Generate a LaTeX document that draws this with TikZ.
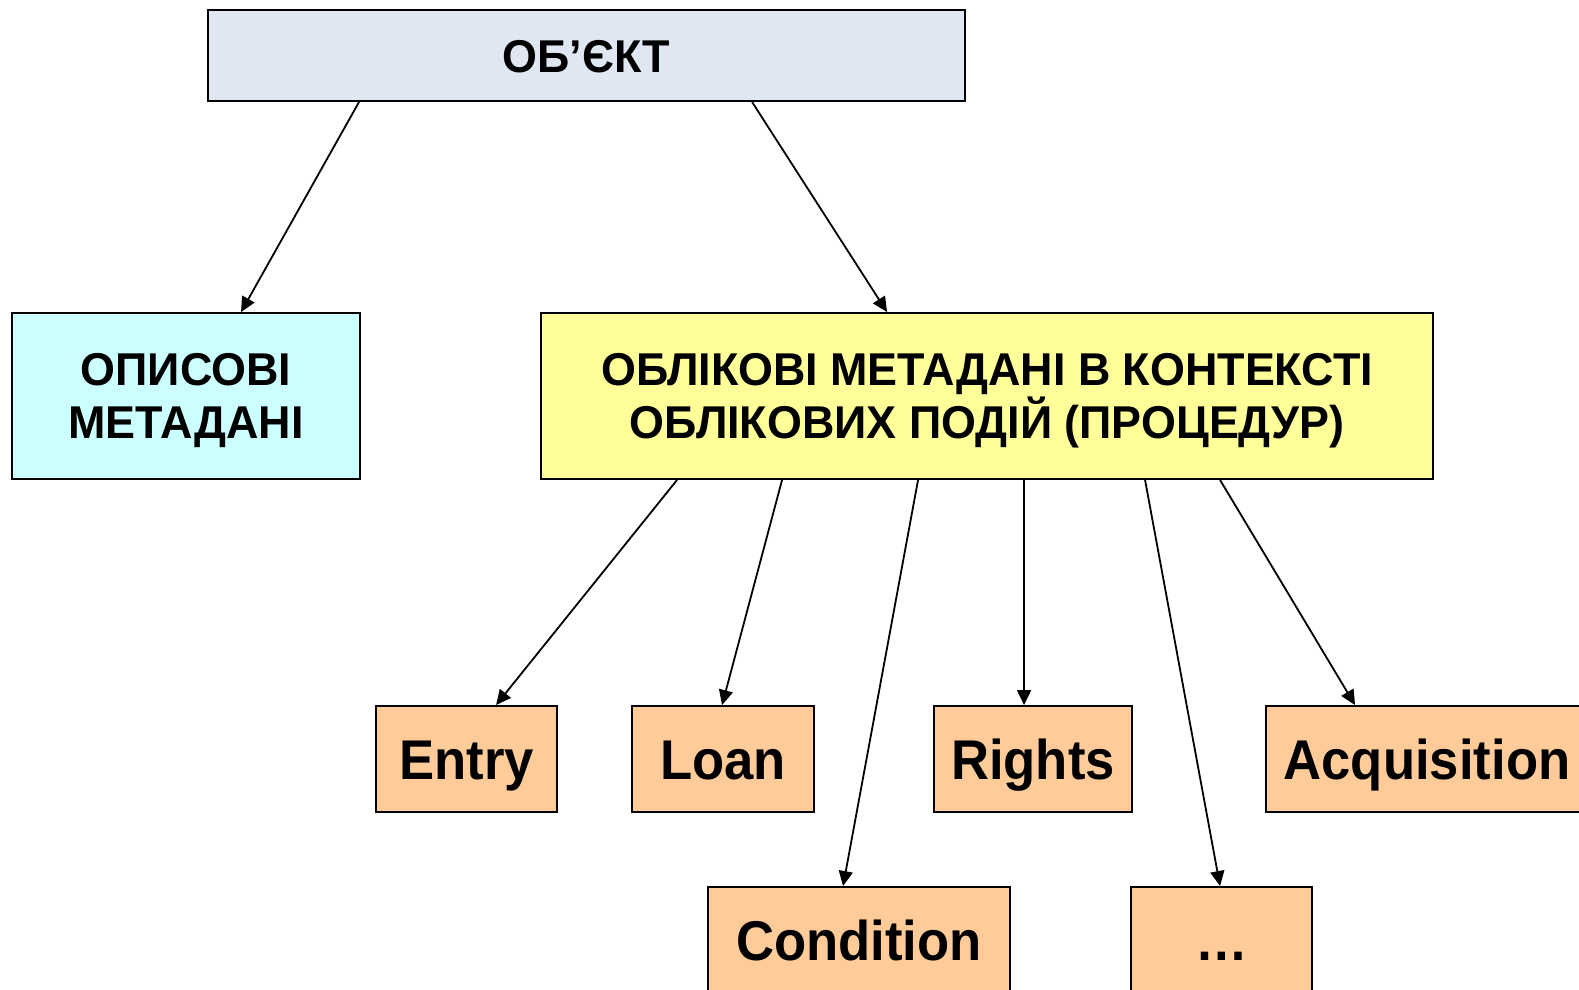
\documentclass[tikz,border=0pt]{standalone}
\usepackage{fontspec}
\setmainfont{Liberation Sans}[FakeStretch=0.975]
\newfontfamily\evfont{Liberation Sans}[FakeStretch=0.94]
\usetikzlibrary{arrows.meta}
\definecolor{objfill}{HTML}{DFE7F2}
\definecolor{descfill}{HTML}{CCFFFF}
\definecolor{accfill}{HTML}{FFFF99}
\definecolor{evfill}{HTML}{FFCC99}
\begin{document}
\begin{tikzpicture}[x=1pt,y=-1pt,
  box/.style={draw=black,line width=1.9pt,rectangle,inner sep=0pt,align=center,
    text depth=0pt,font=\bfseries\fontsize{46}{53.5}\selectfont},
  evbox/.style={box,fill=evfill,minimum height=106pt,text height=40pt,text depth=0pt,
    font=\evfont\bfseries\fontsize{56}{64}\selectfont},
  link/.style={line width=1.8pt,-{Triangle[length=15pt,width=14pt]}}]
\useasboundingbox (0,0) rectangle (1579,990);
\clip (0,0) rectangle (1579,990);
% top level
\node[box,fill=objfill,minimum width=757pt,minimum height=91pt,text height=33pt] (obj) at (586.5,55.5) {ОБ’ЄКТ};
% second level
\node[box,fill=descfill,minimum width=348pt,minimum height=166pt] (desc) at (186,396) {ОПИСОВІ\\МЕТАДАНІ};
\node[box,fill=accfill,minimum width=892pt,minimum height=166pt] (acc) at (987,396)
  {ОБЛІКОВІ МЕТАДАНІ В КОНТЕКСТІ\\ОБЛІКОВИХ ПОДІЙ (ПРОЦЕДУР)};
% events
\node[evbox,minimum width=181pt] (entry) at (466.5,759) {Entry};
\node[evbox,minimum width=182pt] (loan) at (723,759) {Loan};
\node[evbox,minimum width=198pt] (rights) at (1033,759) {Rights};
\node[evbox,minimum width=322pt] (acq) at (1427,759) {Acquisition};
\node[evbox,minimum width=302pt] (cond) at (859,940) {Condition};
\node[evbox,minimum width=181pt] (dots) at (1221.5,940) {…};
% connectors
\draw[link] ([xshift=152pt]obj.south west) -- ([xshift=230pt]desc.north west);
\draw[link] ([xshift=545pt]obj.south west) -- ([xshift=347pt]acc.north west);
\draw[link] ([xshift=137pt]acc.south west) -- ([xshift=121pt]entry.north west);
\draw[link] ([xshift=242pt]acc.south west) -- ([xshift=91pt]loan.north west);
\draw[link] ([xshift=378pt]acc.south west) -- ([xshift=136pt]cond.north west);
\draw[link] ([xshift=484pt]acc.south west) -- ([xshift=91pt]rights.north west);
\draw[link] ([xshift=605pt]acc.south west) -- ([xshift=90pt]dots.north west);
\draw[link] ([xshift=680pt]acc.south west) -- ([xshift=90pt]acq.north west);
\end{tikzpicture}
\end{document}
